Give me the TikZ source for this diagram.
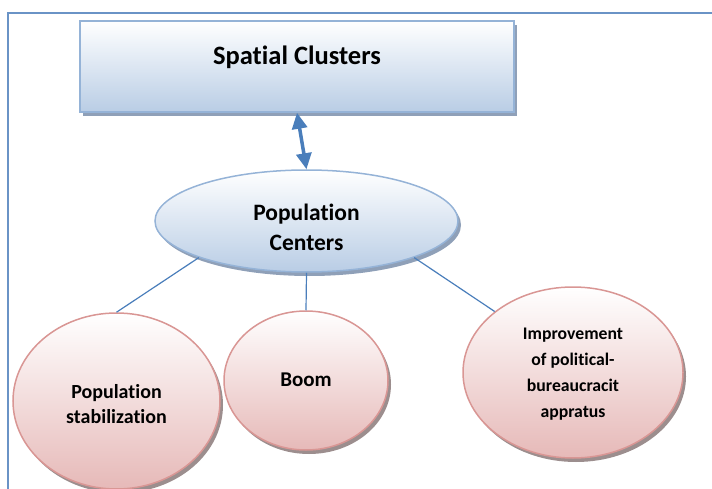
\documentclass[tikz,border=0pt]{standalone}
\usepackage{fontspec}
\setmainfont{Carlito}[Ligatures=CommonOff]
\usetikzlibrary{shapes.geometric,shadows,arrows.meta}
\definecolor{bluefill}{HTML}{B9CDE5}
\definecolor{blueline}{HTML}{95B3D7}
\definecolor{connblue}{HTML}{4A7EBB}
\definecolor{framecol}{HTML}{6A93C6}
\definecolor{pinkfill}{HTML}{E6B9B8}
\definecolor{pinkline}{HTML}{D99694}
\definecolor{blueshadow}{HTML}{8FA0B8}
\definecolor{pinkshadow}{HTML}{9C8E8E}
\tikzset{
  bluebox/.style={draw=blueline, line width=1.5pt, top color=white, bottom color=bluefill,
    drop shadow={shadow xshift=3pt, shadow yshift=-4pt, fill=blueshadow, opacity=1}},
  pinkball/.style={ellipse, draw=pinkline, line width=1.5pt, top color=white, bottom color=pinkfill, inner sep=0pt,
    drop shadow={shadow xshift=3pt, shadow yshift=-4pt, fill=pinkshadow, opacity=1}},
  lbl/.style={align=center, text=black},
  conn/.style={draw=connblue, line width=1.2pt},
}
\begin{document}
\begin{tikzpicture}[x=1pt,y=-1pt]
\useasboundingbox (0,0) rectangle (712,489);
\clip (0,0) rectangle (712,489);
\coordinate (ftl) at (8,13);
\coordinate (ftr) at (712,13);
\coordinate (fbl) at (8,489);
\draw[framecol, line width=1.4pt] (ftr) -- (ftl) -- (fbl);

\node[bluebox, rectangle, minimum width=434pt, minimum height=91pt, inner sep=0pt,
  label={[lbl, font=\bfseries\fontsize{26.5}{30}\selectfont, yshift=9pt]center:Spatial Clusters}]
  (sc) at (297,66.5) {};

\node[bluebox, ellipse, minimum width=303pt, minimum height=102pt, inner sep=0pt,
  label={[lbl, font=\bfseries\fontsize{23.5}{30}\selectfont, yshift=-6pt]center:Population\\Centers}]
  (pc) at (306.5,221) {};

\node[pinkball, minimum width=207pt, minimum height=176pt,
  label={[lbl, font=\bfseries\fontsize{20}{25}\selectfont, yshift=-3pt]center:Population\\stabilization}]
  (ps) at (116.5,401) {};

\node[pinkball, minimum width=164pt, minimum height=139pt,
  label={[lbl, font=\bfseries\fontsize{21}{25}\selectfont, yshift=1pt]center:Boom}]
  (bm) at (306,380.5) {};

\node[pinkball, minimum width=220pt, minimum height=171pt,
  label={[lbl, font=\bfseries\fontsize{17.7}{26}\selectfont, yshift=-2pt]center:Improvement\\of political-\\bureaucracit\\appratus}]
  (im) at (573,372.5) {};

\draw[connblue, line width=3.5pt, {Triangle[length=16pt,width=15pt]}-{Triangle[length=16pt,width=15pt]}] (sc.south) -- (pc.north);
\draw[conn] (pc.south west) -- (ps.north);
\draw[conn] (pc.south) -- (bm.north);
\draw[conn] (pc.south east) -- (im.north west);
\end{tikzpicture}
\end{document}
